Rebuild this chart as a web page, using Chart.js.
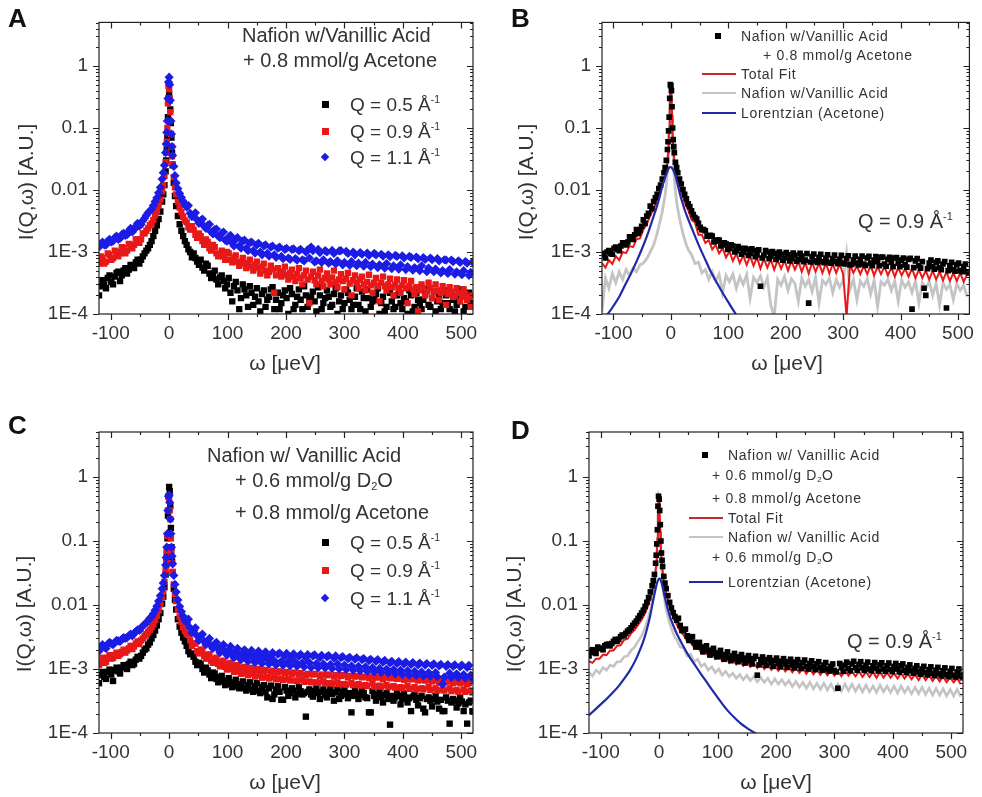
<!DOCTYPE html>
<html>
<head>
<meta charset="utf-8">
<script src="https://cdn.jsdelivr.net/npm/chart.js@4.4.0/dist/chart.umd.min.js"></script>
<style>
  body { margin: 0; background: #fff; }
  #page { position: relative; width: 982px; height: 797px; overflow: hidden; font-family: "Liberation Sans", Arial, sans-serif; color: #333; }
  canvas { position: absolute; }
  .t { position: absolute; white-space: nowrap; line-height: 1; }
  .big { font-size: 20px; }
  .leg { font-size: 19px; }
  .small { font-size: 14px; letter-spacing: 0.7px; }
  .letter { position: absolute; font-size: 26px; font-weight: bold; color: #111; line-height: 1; }
  .ytitle { position: absolute; font-size: 21px; white-space: nowrap; line-height: 1; transform: translate(-50%, -50%) rotate(-90deg); }
  .xtitle { position: absolute; font-size: 21px; white-space: nowrap; line-height: 1; transform: translate(-50%, -50%); }
  .sq { position: absolute; width: 7px; height: 7px; }
  .dia { position: absolute; width: 6px; height: 6px; transform: rotate(45deg); }
  .ln { position: absolute; height: 2px; }
  sup { font-size: 0.55em; vertical-align: 0.75em; line-height: 0; }
  sub { font-size: 0.55em; vertical-align: -0.3em; line-height: 0; }
</style>
</head>
<body>
<div id="page">
  <canvas id="cA" width="491" height="400" style="left:0;top:0"></canvas>
  <canvas id="cB" width="492" height="400" style="left:490px;top:0"></canvas>
  <canvas id="cC" width="491" height="397" style="left:0;top:400px"></canvas>
  <canvas id="cD" width="492" height="397" style="left:490px;top:400px"></canvas>

  <div class="letter" style="left:8px;top:5px">A</div>
  <div class="letter" style="left:511px;top:5px">B</div>
  <div class="letter" style="left:8px;top:412px">C</div>
  <div class="letter" style="left:511px;top:417px">D</div>

  <div class="ytitle" style="left:25px;top:182px">I(Q,ω) [A.U.]</div>
  <div class="ytitle" style="left:525px;top:182px">I(Q,ω) [A.U.]</div>
  <div class="ytitle" style="left:23px;top:614px">I(Q,ω) [A.U.]</div>
  <div class="ytitle" style="left:513px;top:614px">I(Q,ω) [A.U.]</div>
  <div class="xtitle" style="left:285px;top:362px">ω [μeV]</div>
  <div class="xtitle" style="left:787px;top:362px">ω [μeV]</div>
  <div class="xtitle" style="left:285px;top:781px">ω [μeV]</div>
  <div class="xtitle" style="left:776px;top:781px">ω [μeV]</div>

  <!-- panel A labels -->
  <div class="t big" style="left:242px;top:25px">Nafion w/Vanillic Acid</div>
  <div class="t big" style="left:243px;top:50px">+ 0.8 mmol/g Acetone</div>
  <div class="sq" style="left:322px;top:101px;background:#000"></div>
  <div class="t leg" style="left:350px;top:95px">Q = 0.5 Å<sup>-1</sup></div>
  <div class="sq" style="left:322px;top:128px;background:#e81818"></div>
  <div class="t leg" style="left:350px;top:122px">Q = 0.9 Å<sup>-1</sup></div>
  <div class="dia" style="left:322px;top:154px;background:#1c1ce6"></div>
  <div class="t leg" style="left:350px;top:148px">Q = 1.1 Å<sup>-1</sup></div>

  <!-- panel B labels -->
  <div class="sq" style="left:715px;top:33px;width:6px;height:6px;background:#000"></div>
  <div class="t small" style="left:741px;top:29px">Nafion w/Vanillic Acid</div>
  <div class="t small" style="left:763px;top:48px">+ 0.8 mmol/g Acetone</div>
  <div class="ln" style="left:702px;top:73px;width:34px;background:#c8282c"></div>
  <div class="t small" style="left:741px;top:67px">Total Fit</div>
  <div class="ln" style="left:702px;top:92px;width:34px;background:#c4c4c4"></div>
  <div class="t small" style="left:741px;top:86px">Nafion w/Vanillic Acid</div>
  <div class="ln" style="left:702px;top:112px;width:34px;background:#1f2aa8"></div>
  <div class="t small" style="left:741px;top:106px">Lorentzian (Acetone)</div>
  <div class="t" style="left:858px;top:211px;font-size:20px">Q = 0.9 Å<sup>-1</sup></div>

  <!-- panel C labels -->
  <div class="t big" style="left:207px;top:445px">Nafion w/ Vanillic Acid</div>
  <div class="t big" style="left:235px;top:470px">+ 0.6 mmol/g D<sub>2</sub>O</div>
  <div class="t big" style="left:235px;top:502px">+ 0.8 mmol/g Acetone</div>
  <div class="sq" style="left:322px;top:539px;background:#000"></div>
  <div class="t leg" style="left:350px;top:533px">Q = 0.5 Å<sup>-1</sup></div>
  <div class="sq" style="left:322px;top:567px;background:#e81818"></div>
  <div class="t leg" style="left:350px;top:561px">Q = 0.9 Å<sup>-1</sup></div>
  <div class="dia" style="left:322px;top:595px;background:#1c1ce6"></div>
  <div class="t leg" style="left:350px;top:589px">Q = 1.1 Å<sup>-1</sup></div>

  <!-- panel D labels -->
  <div class="sq" style="left:702px;top:452px;width:6px;height:6px;background:#000"></div>
  <div class="t small" style="left:728px;top:448px">Nafion w/ Vanillic Acid</div>
  <div class="t small" style="left:712px;top:468px">+ 0.6 mmol/g D<sub>2</sub>O</div>
  <div class="t small" style="left:712px;top:491px">+ 0.8 mmol/g Acetone</div>
  <div class="ln" style="left:689px;top:517px;width:34px;background:#c8282c"></div>
  <div class="t small" style="left:728px;top:511px">Total Fit</div>
  <div class="ln" style="left:689px;top:536px;width:34px;background:#c4c4c4"></div>
  <div class="t small" style="left:728px;top:530px">Nafion w/ Vanillic Acid</div>
  <div class="t small" style="left:712px;top:550px">+ 0.6 mmol/g D<sub>2</sub>O</div>
  <div class="ln" style="left:689px;top:581px;width:34px;background:#1f2aa8"></div>
  <div class="t small" style="left:728px;top:575px">Lorentzian (Acetone)</div>
  <div class="t" style="left:847px;top:631px;font-size:20px">Q = 0.9 Å<sup>-1</sup></div>
</div>

<script>
// energy transfer grid (μeV) for spectra and fits
const omega = [
  -120,-114,-108,-102,-96,-90,-84,-78,-72,-66,-60,-54,-48,-42,-36,-30,
  -27,-24,-21,-18,-15,-12,-10,-8,-6,-5,-4,-3,-2,-1,0,1,2,3,4,5,6,8,10,12,15,18,21,24,27,
  30,36,42,48,54,60,66,72,78,84,
  90,96,102,108,114,120,126,132,138,144,
  150,156,162,168,174,180,186,192,198,204,
  210,216,222,228,234,240,246,252,258,264,
  270,276,282,288,294,300,306,312,318,324,
  330,336,342,348,354,360,366,372,378,384,
  390,396,402,408,414,420,426,432,438,444,
  450,456,462,468,474,480,486,492,498,504,
  510,516
];
// in-between channels in the wings (scatter data only)
const omega2 = [
  -117,-111,-105,-99,-93,-87,-81,-75,-69,-63,-57,-51,-45,-39,-33,
  33,39,45,51,57,63,69,75,81,87,
  93,99,105,111,117,123,129,135,141,147,
  153,159,165,171,177,183,189,195,201,207,
  213,219,225,231,237,243,249,255,261,267,
  273,279,285,291,297,303,309,315,321,327,
  333,339,345,351,357,363,369,375,381,387,
  393,399,405,411,417,423,429,435,441,447,
  453,459,465,471,477,483,489,495,501,507,
  513,519
];

// panel A: Nafion w/Vanillic Acid + 0.8 mmol/g Acetone
const qA05 = [
  2.0e-4,3.5e-4,2.6e-4,4.2e-4,3.0e-4,4.6e-4,3.4e-4,5.0e-4,4.5e-4,6.2e-4,5.5e-4,7.5e-4,7.5e-4,9.5e-4,1.15e-3,1.5e-3,
  1.8e-3,2.2e-3,2.7e-3,3.4e-3,4.5e-3,6.5e-3,8.5e-3,0.012,0.02,0.03,0.045,0.07,0.15,0.3,0.35,0.28,0.2,0.12,0.07,0.04,0.025,0.013,8e-3,5.5e-3,3.8e-3,2.8e-3,2.2e-3,1.8e-3,1.5e-3,
  1.3e-3,1.0e-3,9.5e-4,7.0e-4,7.5e-4,5.0e-4,6.0e-4,3.8e-4,5.0e-4,3.0e-4,
  4.2e-4,2.6e-4,3.8e-4,1.6e-4,3.3e-4,1.2e-4,3.0e-4,2.0e-4,2.8e-4,1.4e-4,
  2.6e-4,1.1e-4,2.4e-4,1.7e-4,2.5e-4,1.2e-4,2.2e-4,1.5e-4,2.4e-4,1.0e-4,
  2.1e-4,1.4e-4,2.5e-4,1.2e-4,2.0e-4,1.6e-4,2.3e-4,1.1e-4,2.0e-4,1.5e-4,
  2.4e-4,1.3e-4,2.1e-4,1.0e-4,2.0e-4,1.5e-4,2.2e-4,1.2e-4,1.9e-4,1.4e-4,
  2.3e-4,1.1e-4,1.8e-4,1.6e-4,2.1e-4,1.0e-4,1.9e-4,1.3e-4,2.2e-4,1.2e-4,
  2.0e-4,1.5e-4,1.8e-4,1.0e-4,2.0e-4,1.3e-4,1.7e-4,1.2e-4,2.1e-4,1.4e-4,
  1.8e-4,1.1e-4,1.9e-4,1.5e-4,2.0e-4,1.2e-4,1.7e-4,1.4e-4,1.9e-4,1.1e-4,
  1.8e-4,1.5e-4
];
const qA05b = [
  2.8e-4,3.0e-4,3.8e-4,3.3e-4,4.0e-4,4.8e-4,4.2e-4,5.5e-4,5.2e-4,5.8e-4,6.8e-4,6.5e-4,8.5e-4,1.05e-3,1.3e-3,
  1.1e-3,8.2e-4,8.0e-4,6.2e-4,5.6e-4,6.5e-4,4.5e-4,4.4e-4,3.6e-4,3.9e-4,
  3.4e-4,3.0e-4,2.2e-4,2.8e-4,2.4e-4,1.8e-4,2.5e-4,1.3e-4,2.2e-4,1.9e-4,
  1.6e-4,2.1e-4,1.3e-4,1.9e-4,2.7e-4,1.7e-4,1.2e-4,2.0e-4,1.8e-4,2.6e-4,
  1.2e-4,1.9e-4,1.7e-4,2.8e-4,1.3e-4,1.9e-4,1.6e-4,2.7e-4,1.2e-4,1.8e-4,
  1.9e-4,1.4e-4,2.6e-4,1.6e-4,1.2e-4,2.5e-4,1.7e-4,1.4e-4,2.6e-4,1.2e-4,
  1.8e-4,2.5e-4,1.3e-4,1.7e-4,2.6e-4,1.5e-4,1.1e-4,2.4e-4,1.6e-4,1.3e-4,
  2.5e-4,1.2e-4,1.6e-4,2.4e-4,1.1e-4,2.2e-4,1.5e-4,1.7e-4,2.5e-4,1.3e-4,
  2.3e-4,1.6e-4,1.2e-4,2.4e-4,1.5e-4,2.2e-4,1.1e-4,1.6e-4,2.5e-4,1.3e-4,
  2.2e-4,1.4e-4
];
const qA09 = [
  6.5e-4,8.0e-4,7.0e-4,9.0e-4,8.0e-4,1.0e-3,9.5e-4,1.15e-3,1.05e-3,1.3e-3,1.3e-3,1.6e-3,1.6e-3,2.0e-3,2.4e-3,2.9e-3,
  3.3e-3,3.9e-3,4.6e-3,5.6e-3,7e-3,9.5e-3,0.012,0.017,0.028,0.04,0.06,0.1,0.25,0.48,0.42,0.3,0.18,0.08,0.05,0.035,0.026,0.016,0.011,8.5e-3,6.5e-3,5.2e-3,4.4e-3,3.7e-3,3.2e-3,
  3.0e-3,2.3e-3,2.3e-3,1.7e-3,1.8e-3,1.3e-3,1.45e-3,1.05e-3,1.2e-3,8.5e-4,
  1.05e-3,7.5e-4,9.5e-4,6.8e-4,8.8e-4,6.0e-4,8.0e-4,5.5e-4,7.5e-4,5.0e-4,
  7.0e-4,4.5e-4,6.5e-4,4.2e-4,6.0e-4,2.2e-4,5.5e-4,4.0e-4,5.8e-4,3.6e-4,
  5.2e-4,3.4e-4,5.5e-4,3.0e-4,5.0e-4,1.5e-4,4.8e-4,3.0e-4,5.2e-4,2.8e-4,
  4.5e-4,3.0e-4,5.0e-4,2.7e-4,4.4e-4,2.5e-4,4.6e-4,2.0e-4,4.2e-4,2.6e-4,
  4.0e-4,2.4e-4,4.3e-4,2.2e-4,3.8e-4,1.6e-4,4.0e-4,2.4e-4,3.7e-4,2.0e-4,
  3.6e-4,2.2e-4,3.5e-4,1.5e-4,3.4e-4,2.1e-4,1.1e-4,3.0e-4,2.0e-4,3.2e-4,
  1.8e-4,3.0e-4,1.7e-4,2.8e-4,1.4e-4,2.7e-4,1.9e-4,2.6e-4,1.6e-4,2.5e-4,
  1.7e-4,1.3e-4
];
const qA09b = [
  8.5e-4,6.5e-4,9.5e-4,7.5e-4,1.05e-3,8.5e-4,1.2e-3,9.5e-4,1.35e-3,1.15e-3,1.6e-3,1.4e-3,2.0e-3,2.2e-3,2.7e-3,
  2.5e-3,2.6e-3,1.9e-3,2.0e-3,1.5e-3,1.6e-3,1.15e-3,1.3e-3,9.5e-4,9.2e-4,
  8.5e-4,1.0e-3,7.5e-4,8.2e-4,7.0e-4,6.8e-4,6.5e-4,6.6e-4,5.8e-4,6.2e-4,
  5.5e-4,5.8e-4,5.0e-4,4.8e-4,5.2e-4,4.2e-4,4.6e-4,4.8e-4,4.3e-4,4.6e-4,
  4.0e-4,4.4e-4,3.8e-4,4.2e-4,3.6e-4,4.0e-4,3.5e-4,4.2e-4,3.4e-4,3.8e-4,
  3.6e-4,3.9e-4,3.3e-4,3.6e-4,3.4e-4,3.7e-4,3.1e-4,3.5e-4,3.2e-4,3.6e-4,
  3.0e-4,3.3e-4,2.9e-4,3.2e-4,2.8e-4,3.2e-4,2.8e-4,3.0e-4,2.7e-4,3.0e-4,
  2.6e-4,2.9e-4,2.6e-4,2.8e-4,2.5e-4,2.7e-4,2.4e-4,2.6e-4,2.3e-4,2.6e-4,
  2.3e-4,2.4e-4,2.2e-4,2.3e-4,2.1e-4,2.3e-4,2.0e-4,2.2e-4,1.9e-4,2.1e-4,
  1.9e-4,2.0e-4
];
const qA11 = [
  1.2e-3,1.45e-3,1.3e-3,1.6e-3,1.5e-3,1.8e-3,1.65e-3,2.0e-3,1.9e-3,2.4e-3,2.3e-3,2.9e-3,2.8e-3,3.5e-3,4.3e-3,4.9e-3,
  5.6e-3,6.5e-3,7.5e-3,9e-3,0.011,0.015,0.019,0.025,0.04,0.055,0.085,0.13,0.3,0.55,0.66,0.5,0.28,0.13,0.08,0.05,0.036,0.024,0.017,0.013,0.0105,0.0088,0.0076,0.0066,0.0058,
  5.3e-3,4.2e-3,4.0e-3,3.3e-3,3.2e-3,2.6e-3,2.7e-3,2.1e-3,2.3e-3,1.8e-3,
  2.0e-3,1.55e-3,1.75e-3,1.4e-3,1.6e-3,1.25e-3,1.5e-3,1.15e-3,1.4e-3,1.05e-3,
  1.3e-3,1.0e-3,1.25e-3,9.5e-4,1.2e-3,9.0e-4,1.15e-3,8.5e-4,1.1e-3,8.0e-4,
  1.1e-3,7.8e-4,1.05e-3,7.5e-4,1.0e-3,8.0e-4,1.05e-3,7.2e-4,9.8e-4,7.5e-4,
  1.0e-3,7.0e-4,9.5e-4,7.2e-4,1.05e-3,6.8e-4,9.5e-4,7.0e-4,9.0e-4,6.6e-4,
  9.2e-4,6.8e-4,8.8e-4,6.4e-4,9.0e-4,6.2e-4,8.6e-4,6.5e-4,8.4e-4,6.0e-4,
  8.5e-4,6.2e-4,8.0e-4,5.8e-4,8.2e-4,5.6e-4,7.8e-4,6.0e-4,7.6e-4,5.5e-4,
  7.5e-4,5.3e-4,7.2e-4,5.0e-4,7.4e-4,5.2e-4,7.0e-4,4.8e-4,6.8e-4,5.0e-4,
  6.6e-4,4.7e-4
];
const qA11b = [
  1.35e-3,1.3e-3,1.5e-3,1.45e-3,1.7e-3,1.6e-3,1.9e-3,1.85e-3,2.2e-3,2.1e-3,2.6e-3,2.6e-3,3.2e-3,3.9e-3,4.6e-3,
  5.6e-3,3.7e-3,4.3e-3,2.9e-3,3.4e-3,2.4e-3,2.8e-3,1.95e-3,2.35e-3,1.7e-3,
  2.1e-3,1.5e-3,1.85e-3,1.25e-3,1.7e-3,1.15e-3,1.55e-3,1.05e-3,1.45e-3,9.6e-4,
  1.38e-3,9.0e-4,1.3e-3,8.6e-4,1.25e-3,8.2e-4,1.2e-3,7.8e-4,1.15e-3,7.6e-4,
  1.12e-3,7.4e-4,1.1e-3,7.2e-4,1.08e-3,1.2e-3,6.9e-4,1.1e-3,6.8e-4,1.05e-3,
  6.6e-4,1.06e-3,6.4e-4,1.04e-3,6.2e-4,1.02e-3,6.1e-4,1.0e-3,6.0e-4,9.8e-4,
  5.9e-4,9.6e-4,5.8e-4,9.5e-4,5.6e-4,9.2e-4,5.5e-4,9.0e-4,5.4e-4,8.8e-4,
  5.3e-4,8.7e-4,5.2e-4,8.5e-4,5.1e-4,8.3e-4,5.0e-4,8.1e-4,4.8e-4,8.0e-4,
  4.8e-4,7.8e-4,4.6e-4,7.5e-4,4.5e-4,7.4e-4,4.4e-4,7.2e-4,4.3e-4,7.0e-4,
  4.2e-4,6.9e-4
];

// panel B: Q = 0.9, data, total fit, dry sample, Lorentzian
const dataB = [
  9.5e-4,8.0e-4,1.05e-3,9.2e-4,1.2e-3,1.05e-3,1.4e-3,1.3e-3,1.75e-3,1.6e-3,2.3e-3,2.2e-3,3.3e-3,3.8e-3,5.5e-3,6.5e-3,
  7.5e-3,8.5e-3,0.0105,0.012,0.015,0.019,0.023,0.03,0.045,0.06,0.09,0.15,0.3,0.5,0.48,0.4,0.22,0.1,0.065,0.05,0.04,0.028,0.023,0.019,0.015,0.0125,0.0102,0.0085,0.0072,
  6.0e-3,4.6e-3,3.6e-3,2.9e-3,2.3e-3,2.2e-3,1.8e-3,1.8e-3,1.5e-3,1.55e-3,
  1.3e-3,1.35e-3,1.15e-3,1.25e-3,1.05e-3,1.15e-3,9.8e-4,1.1e-3,9.5e-4,1.05e-3,
  9.0e-4,2.8e-4,8.8e-4,1.0e-3,8.5e-4,9.5e-4,8.2e-4,9.2e-4,8.0e-4,9.0e-4,
  7.8e-4,8.8e-4,7.6e-4,8.6e-4,7.4e-4,1.5e-4,8.4e-4,7.2e-4,8.2e-4,7.0e-4,
  8.0e-4,6.8e-4,7.8e-4,7.0e-4,7.6e-4,6.6e-4,7.8e-4,6.2e-4,7.4e-4,6.6e-4,
  7.6e-4,6.4e-4,8.0e-4,6.6e-4,7.4e-4,7.0e-4,8.2e-4,6.4e-4,7.6e-4,6.8e-4,
  8.0e-4,6.6e-4,7.4e-4,6.2e-4,7.6e-4,1.2e-4,7.2e-4,6.0e-4,7.0e-4,2.0e-4,
  6.6e-4,5.8e-4,6.8e-4,5.6e-4,6.4e-4,1.25e-4,6.0e-4,5.2e-4,6.2e-4,5.0e-4,
  5.8e-4,4.8e-4
];
const dataBb = [
  8.8e-4,1.0e-3,9.5e-4,1.15e-3,1.1e-3,1.25e-3,1.4e-3,1.45e-3,1.7e-3,1.9e-3,2.0e-3,2.6e-3,2.9e-3,4.2e-3,5.0e-3,
  5.4e-3,4.0e-3,3.4e-3,2.5e-3,2.3e-3,1.8e-3,1.85e-3,1.45e-3,1.55e-3,1.25e-3,
  1.4e-3,1.1e-3,1.3e-3,1.0e-3,1.22e-3,9.2e-4,1.15e-3,8.8e-4,1.12e-3,8.4e-4,
  1.08e-3,8.0e-4,1.05e-3,7.8e-4,1.02e-3,7.6e-4,1.0e-3,7.4e-4,9.8e-4,7.2e-4,
  9.6e-4,7.1e-4,9.5e-4,7.0e-4,9.4e-4,6.9e-4,9.3e-4,6.8e-4,9.2e-4,6.7e-4,
  9.0e-4,6.6e-4,8.9e-4,6.5e-4,8.8e-4,6.4e-4,8.7e-4,6.3e-4,8.6e-4,6.2e-4,
  8.6e-4,6.1e-4,8.5e-4,6.0e-4,8.4e-4,6.0e-4,8.3e-4,5.9e-4,8.2e-4,5.8e-4,
  8.1e-4,5.8e-4,8.0e-4,5.7e-4,7.9e-4,5.6e-4,7.8e-4,5.5e-4,2.6e-4,5.4e-4,
  7.4e-4,5.3e-4,7.2e-4,5.2e-4,7.0e-4,5.0e-4,6.8e-4,4.9e-4,6.6e-4,4.8e-4,
  6.4e-4,4.6e-4
];
const fitB = [
  6.6e-4,5.6e-4,7.4e-4,6.4e-4,8.6e-4,7.4e-4,1.0e-3,9.6e-4,1.25e-3,1.2e-3,1.6e-3,1.65e-3,2.3e-3,2.8e-3,3.9e-3,4.9e-3,
  5.8e-3,6.8e-3,8.0e-3,9.5e-3,0.0115,0.0145,0.017,0.021,0.03,0.04,0.06,0.1,0.2,0.42,0.48,0.33,0.16,0.08,0.05,0.038,0.031,0.022,0.018,0.015,0.012,9.5e-3,7.8e-3,6.4e-3,5.4e-3,
  4.8e-3,3.3e-3,3.0e-3,1.9e-3,1.9e-3,1.4e-3,1.55e-3,1.1e-3,1.3e-3,9.5e-4,
  1.15e-3,8.2e-4,1.02e-3,7.2e-4,9.4e-4,6.6e-4,8.8e-4,6.2e-4,8.6e-4,6.0e-4,
  8.2e-4,5.4e-4,7.8e-4,5.6e-4,7.6e-4,5.2e-4,7.4e-4,5.4e-4,7.3e-4,5.0e-4,
  7.2e-4,5.2e-4,7.0e-4,4.8e-4,6.8e-4,4.5e-4,6.8e-4,4.8e-4,6.6e-4,4.6e-4,
  6.6e-4,4.5e-4,6.4e-4,4.6e-4,6.4e-4,4.4e-4,9.0e-5,6.2e-4,4.6e-4,6.0e-4,
  4.4e-4,6.0e-4,4.4e-4,6.0e-4,4.2e-4,5.8e-4,4.4e-4,5.8e-4,4.2e-4,5.6e-4,
  4.0e-4,5.6e-4,4.2e-4,5.4e-4,4.0e-4,5.4e-4,3.8e-4,5.2e-4,3.8e-4,5.0e-4,
  3.6e-4,5.0e-4,3.6e-4,4.8e-4,3.5e-4,4.8e-4,3.4e-4,4.6e-4,3.4e-4,4.6e-4,
  3.3e-4,4.4e-4
];
const dryB = [
  1.1e-4,3.8e-4,2.6e-4,4.5e-4,3.2e-4,4.8e-4,3.6e-4,5.2e-4,4.2e-4,5.5e-4,4.8e-4,6.2e-4,6.6e-4,7.8e-4,1.0e-3,1.3e-3,
  1.6e-3,2.0e-3,2.6e-3,3.4e-3,4.5e-3,6.5e-3,8.5e-3,0.012,0.02,0.03,0.05,0.09,0.2,0.42,0.45,0.3,0.14,0.065,0.035,0.022,0.016,0.0095,0.0065,0.005,0.0035,0.0026,0.002,0.0016,0.0013,
  1.1e-3,9.0e-4,6.5e-4,6.8e-4,4.6e-4,5.2e-4,3.6e-4,4.8e-4,3.4e-4,4.4e-4,
  2.2e-4,4.2e-4,3.3e-4,4.4e-4,2.6e-4,4.0e-4,3.0e-4,4.3e-4,1.8e-4,3.9e-4,
  3.2e-4,4.1e-4,2.7e-4,3.8e-4,1.4e-4,9.0e-5,3.6e-4,2.9e-4,4.0e-4,2.4e-4,
  3.7e-4,3.1e-4,1.6e-4,3.8e-4,2.8e-4,3.6e-4,2.3e-4,3.9e-4,1.5e-4,3.5e-4,
  3.0e-4,3.8e-4,2.2e-4,3.6e-4,2.7e-4,3.4e-4,9.5e-4,2.5e-4,3.6e-4,1.7e-4,
  3.4e-4,2.8e-4,3.7e-4,2.1e-4,3.5e-4,1.3e-4,3.3e-4,2.9e-4,3.6e-4,2.4e-4,
  3.4e-4,1.6e-4,3.5e-4,2.7e-4,3.3e-4,2.2e-4,3.4e-4,1.5e-4,3.2e-4,2.6e-4,
  3.3e-4,2.0e-4,3.1e-4,1.4e-4,3.2e-4,2.5e-4,3.0e-4,1.7e-4,3.1e-4,2.4e-4,
  2.9e-4,1.9e-4
];
const omegaLorB = [-118,-110,-100,-90,-80,-70,-60,-50,-40,-30,-25,-20,-15,-10,-6,-3,-1,1,4,8,12,16,20,25,30,40,50,60,70,80,90,100,110,116];
const lorB = [8.5e-5,1.0e-4,1.35e-4,1.9e-4,2.9e-4,4.4e-4,7e-4,1.15e-3,2.0e-3,3.8e-3,5.2e-3,7.5e-3,0.0115,0.016,0.02,0.023,0.0235,0.023,0.021,0.017,0.012,8.5e-3,6.3e-3,4.5e-3,3.4e-3,2.0e-3,1.2e-3,7.5e-4,4.7e-4,3.2e-4,2.2e-4,1.55e-4,1.1e-4,9e-5];

// panel C: Nafion w/ Vanillic Acid + 0.6 mmol/g D2O + 0.8 mmol/g Acetone
const qC05 = [
  6.0e-4,9.0e-4,7.0e-4,9.8e-4,6.5e-4,1.05e-3,8.5e-4,1.15e-3,1.0e-3,1.3e-3,1.2e-3,1.55e-3,1.6e-3,2.0e-3,2.4e-3,3.0e-3,
  3.4e-3,4.0e-3,4.8e-3,6.0e-3,7.5e-3,0.0105,0.0135,0.019,0.03,0.042,0.065,0.11,0.25,0.5,0.7,0.6,0.35,0.16,0.08,0.048,0.032,0.018,0.012,8.5e-3,6.0e-3,4.6e-3,3.7e-3,3.1e-3,2.7e-3,
  2.3e-3,1.7e-3,1.55e-3,1.15e-3,1.2e-3,8.8e-4,9.5e-4,7.2e-4,8.5e-4,6.2e-4,
  7.8e-4,5.6e-4,7.2e-4,5.2e-4,6.8e-4,5.0e-4,6.4e-4,4.6e-4,6.2e-4,4.4e-4,
  6.0e-4,4.2e-4,5.6e-4,3.6e-4,5.5e-4,4.0e-4,5.4e-4,3.3e-4,5.2e-4,3.8e-4,
  5.0e-4,3.6e-4,5.2e-4,4.0e-4,1.8e-4,4.8e-4,3.7e-4,5.0e-4,3.4e-4,4.8e-4,
  3.6e-4,5.0e-4,3.2e-4,4.8e-4,3.8e-4,5.0e-4,3.5e-4,2.1e-4,4.6e-4,3.4e-4,
  4.8e-4,3.6e-4,2.1e-4,4.5e-4,3.2e-4,4.4e-4,3.0e-4,4.2e-4,1.35e-4,3.2e-4,
  4.4e-4,2.8e-4,4.2e-4,3.0e-4,2.2e-4,4.0e-4,2.7e-4,3.8e-4,2.1e-4,3.6e-4,
  2.6e-4,3.8e-4,2.4e-4,2.2e-4,3.6e-4,1.4e-4,3.4e-4,2.5e-4,3.6e-4,2.2e-4,
  1.4e-4,3.2e-4
];
const qC05b = [
  8.0e-4,7.5e-4,9.0e-4,8.2e-4,9.5e-4,9.2e-4,1.05e-3,1.1e-3,1.2e-3,1.15e-3,1.4e-3,1.45e-3,1.8e-3,2.1e-3,2.6e-3,
  1.9e-3,1.75e-3,1.3e-3,1.25e-3,1.0e-3,1.05e-3,8.2e-4,8.8e-4,7.0e-4,7.4e-4,
  6.4e-4,6.6e-4,5.8e-4,6.2e-4,5.4e-4,5.8e-4,5.0e-4,5.6e-4,4.8e-4,5.4e-4,
  4.6e-4,5.2e-4,4.4e-4,5.0e-4,3.4e-4,4.8e-4,4.4e-4,3.3e-4,4.6e-4,4.2e-4,
  4.6e-4,4.1e-4,4.5e-4,4.2e-4,4.4e-4,4.0e-4,4.5e-4,4.2e-4,4.4e-4,3.9e-4,
  4.4e-4,4.1e-4,4.3e-4,3.4e-4,4.4e-4,4.0e-4,4.2e-4,3.8e-4,4.1e-4,3.9e-4,
  4.2e-4,3.5e-4,2.1e-4,3.8e-4,4.0e-4,3.6e-4,3.9e-4,3.4e-4,3.8e-4,3.6e-4,
  3.8e-4,3.4e-4,3.6e-4,3.5e-4,3.7e-4,3.3e-4,3.5e-4,2.4e-4,3.4e-4,3.2e-4,
  3.4e-4,3.1e-4,3.3e-4,2.2e-4,3.2e-4,3.0e-4,3.2e-4,2.9e-4,3.1e-4,2.8e-4,
  3.0e-4,2.2e-4
];
const qC09 = [
  1.15e-3,1.5e-3,1.3e-3,1.65e-3,1.5e-3,1.8e-3,1.7e-3,2.0e-3,1.95e-3,2.3e-3,2.25e-3,2.7e-3,2.8e-3,3.3e-3,3.8e-3,4.5e-3,
  5.0e-3,5.8e-3,6.8e-3,8.2e-3,0.0102,0.0135,0.017,0.023,0.035,0.048,0.07,0.12,0.3,0.5,0.45,0.3,0.22,0.11,0.065,0.045,0.033,0.021,0.015,0.0115,8.5e-3,6.6e-3,5.4e-3,4.5e-3,3.9e-3,
  3.5e-3,2.8e-3,2.5e-3,1.9e-3,2.0e-3,1.6e-3,1.65e-3,1.35e-3,1.45e-3,1.2e-3,
  1.3e-3,1.08e-3,1.2e-3,1.0e-3,1.12e-3,9.2e-4,1.05e-3,8.6e-4,1.0e-3,8.4e-4,
  9.6e-4,8.0e-4,9.2e-4,7.5e-4,9.0e-4,7.4e-4,8.8e-4,7.0e-4,8.6e-4,7.0e-4,
  8.4e-4,6.6e-4,8.2e-4,6.8e-4,8.0e-4,6.4e-4,8.2e-4,6.2e-4,7.8e-4,6.4e-4,
  8.0e-4,6.0e-4,7.6e-4,6.2e-4,7.8e-4,5.8e-4,7.4e-4,6.0e-4,7.6e-4,5.8e-4,
  7.4e-4,5.6e-4,7.2e-4,6.0e-4,7.4e-4,5.5e-4,7.0e-4,5.6e-4,7.2e-4,5.4e-4,
  7.0e-4,5.2e-4,6.8e-4,5.5e-4,7.0e-4,5.2e-4,6.6e-4,5.0e-4,6.6e-4,5.2e-4,
  6.4e-4,5.0e-4,6.2e-4,4.8e-4,6.4e-4,5.0e-4,6.0e-4,4.7e-4,6.0e-4,4.8e-4,
  5.8e-4,4.6e-4
];
const qC09b = [
  1.35e-3,1.25e-3,1.5e-3,1.45e-3,1.65e-3,1.6e-3,1.85e-3,1.8e-3,2.1e-3,2.05e-3,2.5e-3,2.45e-3,3.0e-3,3.5e-3,4.1e-3,
  3.5e-3,2.3e-3,2.5e-3,1.75e-3,2.0e-3,1.45e-3,1.7e-3,1.25e-3,1.5e-3,1.1e-3,
  1.35e-3,9.8e-4,1.25e-3,9.0e-4,1.15e-3,8.4e-4,1.08e-3,8.0e-4,1.04e-3,7.6e-4,
  1.0e-3,7.3e-4,9.7e-4,7.1e-4,9.4e-4,6.9e-4,9.2e-4,6.7e-4,9.0e-4,6.6e-4,
  8.8e-4,6.5e-4,8.6e-4,6.3e-4,8.4e-4,6.2e-4,8.4e-4,6.1e-4,8.2e-4,6.0e-4,
  8.2e-4,5.9e-4,8.0e-4,5.8e-4,8.0e-4,5.7e-4,7.8e-4,5.6e-4,7.8e-4,5.5e-4,
  7.6e-4,5.4e-4,7.6e-4,5.3e-4,7.4e-4,5.3e-4,7.4e-4,5.2e-4,7.2e-4,5.1e-4,
  7.1e-4,5.0e-4,7.0e-4,4.9e-4,6.9e-4,4.8e-4,6.8e-4,4.8e-4,6.7e-4,4.7e-4,
  6.6e-4,4.6e-4,6.5e-4,4.6e-4,6.4e-4,4.5e-4,6.3e-4,4.4e-4,6.2e-4,4.4e-4,
  6.1e-4,4.3e-4
];
const qC11 = [
  1.9e-3,2.4e-3,2.1e-3,2.6e-3,2.4e-3,2.8e-3,2.7e-3,3.1e-3,3.1e-3,3.5e-3,3.6e-3,4.1e-3,4.4e-3,5.0e-3,5.7e-3,6.6e-3,
  7.3e-3,8.3e-3,9.6e-3,0.0115,0.014,0.018,0.022,0.029,0.042,0.055,0.08,0.13,0.3,0.5,0.52,0.4,0.22,0.13,0.08,0.058,0.044,0.029,0.021,0.016,0.012,9.5e-3,7.9e-3,6.7e-3,5.8e-3,
  5.3e-3,4.4e-3,4.0e-3,3.3e-3,3.3e-3,2.7e-3,2.8e-3,2.3e-3,2.45e-3,2.05e-3,
  2.2e-3,1.85e-3,2.0e-3,1.7e-3,1.9e-3,1.6e-3,1.8e-3,1.55e-3,1.75e-3,1.5e-3,
  1.7e-3,1.42e-3,1.65e-3,1.4e-3,1.62e-3,1.35e-3,1.7e-3,1.32e-3,1.6e-3,1.3e-3,
  1.55e-3,1.28e-3,1.58e-3,1.25e-3,1.52e-3,1.26e-3,1.6e-3,1.22e-3,1.5e-3,1.2e-3,
  1.55e-3,1.18e-3,1.48e-3,1.2e-3,1.5e-3,1.15e-3,1.45e-3,1.12e-3,1.42e-3,1.1e-3,
  1.4e-3,1.08e-3,1.35e-3,1.05e-3,1.32e-3,1.02e-3,1.28e-3,1.0e-3,1.25e-3,9.8e-4,
  1.22e-3,9.6e-4,1.2e-3,9.4e-4,1.18e-3,9.2e-4,1.16e-3,9.0e-4,1.15e-3,8.8e-4,
  1.14e-3,8.8e-4,1.12e-3,5.8e-4,1.1e-3,8.6e-4,1.1e-3,8.4e-4,1.08e-3,8.2e-4,
  1.06e-3,8.0e-4
];
const qC11b = [
  2.2e-3,2.2e-3,2.45e-3,2.5e-3,2.6e-3,2.75e-3,2.9e-3,3.0e-3,3.3e-3,3.3e-3,3.85e-3,4.0e-3,4.7e-3,5.3e-3,6.2e-3,
  6.0e-3,3.7e-3,4.4e-3,2.8e-3,3.5e-3,2.4e-3,3.0e-3,2.1e-3,2.6e-3,1.8e-3,
  2.4e-3,1.65e-3,2.25e-3,1.5e-3,2.1e-3,1.4e-3,2.0e-3,1.32e-3,1.95e-3,1.26e-3,
  1.9e-3,1.22e-3,1.85e-3,1.2e-3,1.8e-3,1.16e-3,1.78e-3,1.14e-3,1.75e-3,1.12e-3,
  1.72e-3,1.1e-3,1.7e-3,1.08e-3,1.68e-3,1.06e-3,1.66e-3,1.05e-3,1.64e-3,1.04e-3,
  1.62e-3,1.02e-3,1.6e-3,1.0e-3,1.56e-3,9.8e-4,1.52e-3,9.6e-4,1.5e-3,9.4e-4,
  1.46e-3,9.2e-4,1.42e-3,9.0e-4,1.4e-3,8.8e-4,1.36e-3,8.6e-4,1.32e-3,8.4e-4,
  1.3e-3,8.2e-4,1.28e-3,8.0e-4,1.26e-3,7.9e-4,1.24e-3,7.8e-4,1.22e-3,7.7e-4,
  1.2e-3,7.6e-4,1.18e-3,7.5e-4,1.17e-3,7.4e-4,1.16e-3,7.3e-4,1.15e-3,7.2e-4,
  1.14e-3,7.1e-4
];

// panel D: Q = 0.9, data, total fit, sample w/ D2O, Lorentzian
const dataD = [
  1.6e-3,2.0e-3,1.75e-3,2.1e-3,2.0e-3,2.4e-3,2.3e-3,2.7e-3,2.7e-3,3.2e-3,3.3e-3,3.9e-3,4.4e-3,5.2e-3,6.2e-3,7.5e-3,
  8.3e-3,9.5e-3,0.011,0.013,0.016,0.02,0.024,0.03,0.045,0.06,0.09,0.15,0.35,0.5,0.45,0.3,0.18,0.1,0.065,0.05,0.04,0.028,0.022,0.018,0.014,0.011,9e-3,7.6e-3,6.6e-3,
  5.8e-3,4.8e-3,4.0e-3,3.3e-3,3.0e-3,2.6e-3,2.5e-3,2.2e-3,2.15e-3,1.95e-3,
  1.95e-3,1.75e-3,1.8e-3,1.6e-3,1.68e-3,1.52e-3,1.6e-3,1.45e-3,1.55e-3,1.4e-3,
  1.48e-3,1.35e-3,1.45e-3,8.0e-4,1.4e-3,1.28e-3,1.4e-3,1.25e-3,1.36e-3,1.22e-3,
  1.32e-3,1.2e-3,1.3e-3,1.16e-3,1.28e-3,1.14e-3,1.26e-3,1.1e-3,1.22e-3,1.08e-3,
  1.2e-3,1.05e-3,1.15e-3,1.0e-3,1.1e-3,9.5e-4,5.0e-4,1.05e-3,1.15e-3,1.02e-3,
  1.2e-3,1.05e-3,1.18e-3,1.04e-3,1.15e-3,1.0e-3,1.12e-3,1.02e-3,1.16e-3,1.0e-3,
  1.12e-3,9.8e-4,1.1e-3,1.0e-3,1.12e-3,9.6e-4,1.06e-3,9.4e-4,1.02e-3,9.0e-4,
  1.0e-3,8.8e-4,9.8e-4,8.6e-4,9.6e-4,8.4e-4,9.4e-4,8.2e-4,9.2e-4,8.0e-4,
  9.0e-4,7.8e-4
];
const dataDb = [
  1.9e-3,1.8e-3,2.2e-3,2.1e-3,2.3e-3,2.45e-3,2.5e-3,2.9e-3,2.9e-3,3.4e-3,3.6e-3,4.1e-3,4.8e-3,5.6e-3,6.8e-3,
  6.2e-3,4.0e-3,4.2e-3,2.8e-3,3.2e-3,2.2e-3,2.6e-3,1.85e-3,2.3e-3,1.65e-3,
  2.1e-3,1.55e-3,1.95e-3,1.42e-3,1.85e-3,1.35e-3,1.75e-3,1.3e-3,1.68e-3,1.24e-3,
  1.62e-3,1.2e-3,1.58e-3,1.16e-3,1.54e-3,1.14e-3,1.5e-3,1.1e-3,1.48e-3,1.08e-3,
  1.45e-3,1.06e-3,1.42e-3,1.04e-3,1.4e-3,1.02e-3,1.38e-3,1.0e-3,1.34e-3,9.8e-4,
  1.3e-3,9.6e-4,1.26e-3,9.3e-4,1.2e-3,9.0e-4,1.22e-3,9.2e-4,1.28e-3,9.4e-4,
  1.32e-3,9.6e-4,1.3e-3,9.5e-4,1.28e-3,9.4e-4,1.26e-3,9.3e-4,1.25e-3,9.2e-4,
  1.24e-3,9.1e-4,1.22e-3,9.0e-4,1.2e-3,8.8e-4,1.16e-3,8.6e-4,1.12e-3,8.3e-4,
  1.1e-3,8.1e-4,1.08e-3,7.9e-4,1.06e-3,7.8e-4,1.04e-3,7.6e-4,1.02e-3,7.5e-4,
  1.0e-3,7.3e-4
];
const fitD = [
  1.32e-3,1.25e-3,1.45e-3,1.45e-3,1.68e-3,1.65e-3,1.95e-3,1.95e-3,2.3e-3,2.35e-3,2.85e-3,2.95e-3,3.6e-3,4.1e-3,4.9e-3,5.9e-3,
  6.6e-3,7.5e-3,8.7e-3,0.0103,0.0125,0.0155,0.019,0.024,0.034,0.045,0.065,0.11,0.25,0.45,0.4,0.25,0.14,0.08,0.055,0.042,0.034,0.024,0.019,0.0155,0.012,9.5e-3,7.8e-3,6.5e-3,5.6e-3,
  5.0e-3,3.9e-3,3.4e-3,2.7e-3,2.6e-3,2.15e-3,2.2e-3,1.8e-3,1.92e-3,1.6e-3,
  1.75e-3,1.45e-3,1.62e-3,1.34e-3,1.52e-3,1.25e-3,1.42e-3,1.18e-3,1.36e-3,1.12e-3,
  1.3e-3,1.08e-3,1.25e-3,1.03e-3,1.2e-3,1.0e-3,1.17e-3,9.7e-4,1.14e-3,9.4e-4,
  1.1e-3,9.2e-4,1.08e-3,8.9e-4,1.05e-3,8.7e-4,1.02e-3,8.4e-4,1.0e-3,8.3e-4,
  9.8e-4,8.1e-4,9.6e-4,8.0e-4,9.4e-4,7.9e-4,9.2e-4,7.7e-4,9.4e-4,7.9e-4,
  9.2e-4,7.7e-4,9.2e-4,7.5e-4,9.0e-4,7.5e-4,9.0e-4,7.3e-4,9.0e-4,7.3e-4,
  8.8e-4,7.3e-4,8.6e-4,7.1e-4,8.6e-4,7.1e-4,8.4e-4,6.9e-4,8.2e-4,6.7e-4,
  8.2e-4,6.7e-4,8.0e-4,6.5e-4,7.8e-4,6.4e-4,7.6e-4,6.2e-4,7.4e-4,6.2e-4,
  7.2e-4,5.8e-4
];
const dryD = [
  8.8e-4,7.8e-4,9.6e-4,8.6e-4,1.05e-3,9.6e-4,1.15e-3,1.1e-3,1.3e-3,1.3e-3,1.55e-3,1.6e-3,1.95e-3,2.2e-3,2.7e-3,3.3e-3,
  3.8e-3,4.5e-3,5.4e-3,6.6e-3,8.3e-3,0.011,0.014,0.019,0.03,0.04,0.06,0.1,0.25,0.38,0.35,0.22,0.12,0.065,0.042,0.03,0.023,0.015,0.011,8.5e-3,6.5e-3,5.2e-3,4.3e-3,3.6e-3,3.1e-3,
  2.9e-3,2.2e-3,2.15e-3,1.6e-3,1.7e-3,1.3e-3,1.42e-3,1.1e-3,1.2e-3,9.6e-4,
  1.08e-3,8.8e-4,1.0e-3,8.0e-4,9.2e-4,7.6e-4,8.6e-4,7.2e-4,8.2e-4,6.8e-4,
  8.0e-4,6.6e-4,7.6e-4,6.3e-4,7.4e-4,6.2e-4,7.2e-4,5.8e-4,7.0e-4,5.8e-4,
  6.8e-4,5.6e-4,6.6e-4,5.3e-4,6.4e-4,5.2e-4,6.2e-4,5.0e-4,6.2e-4,4.9e-4,
  6.0e-4,4.8e-4,6.0e-4,4.7e-4,5.8e-4,4.6e-4,5.8e-4,4.5e-4,5.8e-4,4.6e-4,
  5.8e-4,4.5e-4,5.6e-4,4.4e-4,5.6e-4,4.4e-4,5.4e-4,4.3e-4,5.6e-4,4.4e-4,
  5.4e-4,4.3e-4,5.4e-4,4.2e-4,5.4e-4,4.3e-4,5.2e-4,4.1e-4,5.2e-4,4.1e-4,
  5.2e-4,4.0e-4,5.0e-4,3.9e-4,5.0e-4,3.9e-4,4.9e-4,3.8e-4,4.8e-4,3.8e-4,
  4.8e-4,3.7e-4
];
const omegaLorD = [-120,-110,-100,-90,-80,-70,-60,-50,-40,-30,-25,-20,-15,-10,-6,-3,0,3,6,10,15,20,25,30,40,50,60,70,80,90,100,110,120,130,140,150,160,168];
const lorD = [1.9e-4,2.3e-4,2.8e-4,3.4e-4,4.2e-4,5.3e-4,7e-4,9.5e-4,1.4e-3,2.3e-3,3.1e-3,4.5e-3,7e-3,0.012,0.018,0.023,0.026,0.024,0.019,0.013,8.5e-3,6e-3,4.6e-3,3.6e-3,2.4e-3,1.65e-3,1.2e-3,8.8e-4,6.5e-4,4.8e-4,3.6e-4,2.7e-4,2.1e-4,1.7e-4,1.4e-4,1.2e-4,1.05e-4,9.5e-5];

// axes
const yTicks = [1e-4, 1e-3, 0.01, 0.1, 1];
const yTickLabels = ['1E-4', '1E-3', '0.01', '0.1', '1'];
const xTicks = [-100, 0, 100, 200, 300, 400, 500];
const xMinor = [-50, 50, 150, 250, 350, 450];

const RED = '#e81818', BLUE = '#1c1ce6', GREY = '#c4c4c4', NAVY = '#1f2aa8';

function pts(xs, ys) {
  if (xs.length !== ys.length) console.error('length mismatch', xs.length, ys.length);
  return xs.map((x, i) => ({ x: x, y: ys[i] }));
}

function scatterSet(ys, ysb, color, style, r, order) {
  return { type: 'scatter', data: pts(omega, ys).concat(pts(omega2, ysb)), backgroundColor: color, borderColor: color,
           borderWidth: 0, pointStyle: style, pointRadius: r, pointHoverRadius: r, order: order, clip: 0 };
}
function lineSet(xs, ys, color, width, order, tension) {
  return { type: 'line', data: pts(xs, ys), borderColor: color, borderWidth: width, pointRadius: 0,
           fill: false, tension: tension || 0, order: order, clip: 0 };
}

// frame with Origin style ticks: out on left/bottom, in on top/right
const framePlugin = {
  id: 'frame',
  afterDatasetsDraw(chart) {
    const { ctx, chartArea: a } = chart;
    const xs = chart.scales.x, ys = chart.scales.y;
    ctx.save();
    ctx.strokeStyle = '#222';
    ctx.lineWidth = 1.2;
    ctx.strokeRect(a.left, a.top, a.right - a.left, a.bottom - a.top);
    ctx.beginPath();
    const seg = (x1, y1, x2, y2) => { ctx.moveTo(x1, y1); ctx.lineTo(x2, y2); };
    xTicks.forEach(v => {
      const p = Math.round(xs.getPixelForValue(v)) + 0.5;
      seg(p, a.bottom, p, a.bottom + 6); seg(p, a.top, p, a.top + 6);
    });
    xMinor.forEach(v => {
      const p = Math.round(xs.getPixelForValue(v)) + 0.5;
      seg(p, a.bottom, p, a.bottom + 3); seg(p, a.top, p, a.top + 3);
    });
    yTicks.forEach(v => {
      const p = Math.round(ys.getPixelForValue(v)) + 0.5;
      seg(a.left - 6, p, a.left, p); seg(a.right - 6, p, a.right, p);
    });
    for (let d = -4; d <= 0; d++) {
      for (let k = 2; k <= 9; k++) {
        const v = k * Math.pow(10, d);
        if (v > ys.max) continue;
        const p = Math.round(ys.getPixelForValue(v)) + 0.5;
        seg(a.left - 3, p, a.left, p); seg(a.right - 3, p, a.right, p);
      }
    }
    ctx.stroke();
    ctx.restore();
  }
};

function makeOptions(p) {
  const tickFont = { family: '"Liberation Sans", Arial, sans-serif', size: 19 };
  return {
    responsive: false,
    animation: false,
    devicePixelRatio: 1,
    events: [],
    layout: { padding: { top: p.top, right: p.right, left: 0, bottom: 0 } },
    plugins: { legend: { display: false }, tooltip: { enabled: false } },
    scales: {
      x: {
        type: 'linear', min: -120, max: 520,
        grid: { display: false, drawTicks: false }, border: { display: false },
        afterBuildTicks: s => { s.ticks = xTicks.map(v => ({ value: v })); },
        afterFit: s => { s.height = p.xh; },
        ticks: { font: tickFont, color: '#333', padding: 8, maxRotation: 0, autoSkip: false }
      },
      y: {
        type: 'logarithmic', min: 1e-4, max: 5.05,
        grid: { display: false, drawTicks: false }, border: { display: false },
        afterBuildTicks: s => { s.ticks = yTicks.map(v => ({ value: v })); },
        afterFit: s => { s.width = p.yw; },
        ticks: { font: tickFont, color: '#333', padding: 11, autoSkip: false,
                 callback: (v, i) => yTickLabels[i] }
      }
    }
  };
}

new Chart(document.getElementById('cA'), {
  type: 'scatter',
  data: { datasets: [
    scatterSet(qA11, qA11b, BLUE, 'rectRot', 4.6, 0),
    scatterSet(qA09, qA09b, RED, 'rect', 4.5, 1),
    scatterSet(qA05, qA05b, '#000', 'rect', 4.5, 2)
  ] },
  options: makeOptions({ top: 13, right: 18, yw: 99, xh: 86 }),
  plugins: [framePlugin]
});

new Chart(document.getElementById('cB'), {
  type: 'scatter',
  data: { datasets: [
    lineSet(omegaLorB, lorB, NAVY, 2.2, 0, 0.3),
    scatterSet(dataB, dataBb, '#000', 'rect', 4, 1),
    lineSet(omega, fitB, RED, 2.0, 2),
    lineSet(omega, dryB, GREY, 2.8, 3)
  ] },
  options: makeOptions({ top: 13, right: 7, yw: 112, xh: 86 }),
  plugins: [framePlugin]
});

new Chart(document.getElementById('cC'), {
  type: 'scatter',
  data: { datasets: [
    scatterSet(qC11, qC11b, BLUE, 'rectRot', 4.6, 0),
    scatterSet(qC09, qC09b, RED, 'rect', 4.5, 1),
    scatterSet(qC05, qC05b, '#000', 'rect', 4.5, 2)
  ] },
  options: makeOptions({ top: 32, right: 18, yw: 99, xh: 64 }),
  plugins: [framePlugin]
});

new Chart(document.getElementById('cD'), {
  type: 'scatter',
  data: { datasets: [
    lineSet(omegaLorD, lorD, NAVY, 2.2, 0, 0.3),
    scatterSet(dataD, dataDb, '#000', 'rect', 4, 1),
    lineSet(omega, fitD, RED, 2.0, 2),
    lineSet(omega, dryD, GREY, 2.6, 3)
  ] },
  options: makeOptions({ top: 32, right: 19, yw: 99, xh: 64 }),
  plugins: [framePlugin]
});
</script>
</body>
</html>
